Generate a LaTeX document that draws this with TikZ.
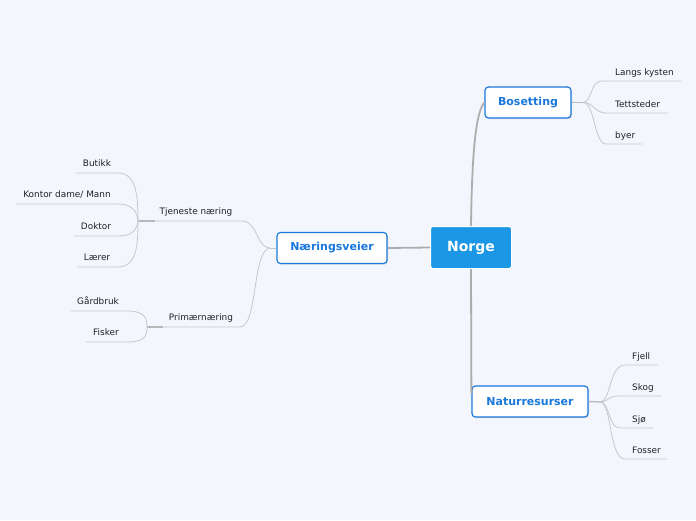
\documentclass[tikz,border=0pt]{standalone}
\usepackage{fontspec}
\setmainfont{DejaVu Sans}
\usetikzlibrary{shadows}
\definecolor{bgblue}{HTML}{F3F6FD}
\definecolor{hubblue}{HTML}{1B97E6}
\definecolor{topicblue}{HTML}{1A78DC}
\definecolor{trunkgray}{HTML}{ADADAD}
\definecolor{twiggray}{HTML}{C6C8CE}
\definecolor{leaftext}{HTML}{222222}

\begin{document}
\begin{tikzpicture}[
  x=1pt, y=-1pt,
  hub/.style={rectangle,rounded corners=2.5pt,fill=hubblue,draw=white,line width=1pt,text=white,font=\bfseries\fontsize{14}{16}\selectfont,minimum width=81pt,minimum height=42pt},
  topic/.style={rectangle,rounded corners=3.5pt,fill=white,draw=topicblue,line width=1.2pt,text=topicblue,font=\bfseries\fontsize{11}{13}\selectfont,minimum height=31pt,drop shadow={shadow xshift=1pt,shadow yshift=-1.2pt,opacity=0.25}},
  leaf/.style={anchor=base west,inner sep=0pt,text=leaftext,font=\fontsize{8.9}{10}\selectfont},
  cleaf/.style={leaf,anchor=base},
  trunk/.style={draw=trunkgray,line width=1.8pt},
  knot/.style={draw=trunkgray!85,line width=1.3pt},
  twig/.style={draw=twiggray,line width=0.8pt}
]
  \useasboundingbox[fill=bgblue] (0,0) rectangle (696,520);

  % main topics
  \node[hub] (norge) at (471,247.5) {Norge};
  \node[topic,minimum width=86pt] (bos) at (528,102.5) {Bosetting};
  \node[topic,minimum width=110pt] (naer) at (332,248) {Næringsveier};
  \node[topic,minimum width=116pt] (nat) at (530,401.5) {Naturresurser};

  \draw[trunk] (norge.west) -- (naer.east);
  \draw[trunk] (norge.north) .. controls (472,150) and (476,112) .. (bos.west);
  \draw[trunk] (norge.south) -- ([yshift=8pt]nat.west);

  % Bosetting
  \coordinate (bosj) at (583,102.5);
  \node[leaf] (lk) at (615,75) {Langs kysten};
  \node[leaf] (tett) at (615,107) {Tettsteder};
  \node[leaf] (byer) at (615,138) {byer};
  \coordinate (lk0) at (602,81);   \coordinate (lk1) at (681,81);
  \coordinate (tett0) at (606,113); \coordinate (tett1) at (668,113);
  \coordinate (byer0) at (606,144); \coordinate (byer1) at (642,144);
  \draw[knot] (bos.east) -- (bosj);
  \draw[twig] (bosj) .. controls (592,102.5) and (590,81) .. (lk0) -- (lk1);
  \draw[twig] (bosj) .. controls (593,102.5) and (595,113) .. (tett0) -- (tett1);
  \draw[twig] (bosj) .. controls (595,102.5) and (594,144) .. (byer0) -- (byer1);

  % Naturresurser
  \coordinate (natj) at (600,402);
  \node[leaf] (fjell) at (632,359) {Fjell};
  \node[leaf] (skog) at (632,390) {Skog};
  \node[leaf] (sjo) at (632,422) {Sjø};
  \node[leaf] (foss) at (632,453) {Fosser};
  \coordinate (fjell0) at (625,365); \coordinate (fjell1) at (658,365);
  \coordinate (skog0) at (618,396);  \coordinate (skog1) at (661,396);
  \coordinate (sjo0) at (620,428);   \coordinate (sjo1) at (653,428);
  \coordinate (foss0) at (625,459);  \coordinate (foss1) at (667,459);
  \draw[knot] (nat.east) -- (natj);
  \draw[twig] (natj) .. controls (611,402) and (609,365) .. (fjell0) -- (fjell1);
  \draw[twig] (natj) .. controls (608,402) and (608,396) .. (skog0) -- (skog1);
  \draw[twig] (natj) .. controls (610,402) and (608,428) .. (sjo0) -- (sjo1);
  \draw[twig] (natj) .. controls (612,402) and (609,459) .. (foss0) -- (foss1);

  % Naeringsveier
  \coordinate (naerj) at (270,248);
  \node[cleaf] (tjen) at (196,214) {Tjeneste næring};
  \node[cleaf] (prim) at (201,320) {Primærnæring};
  \coordinate (tjen0) at (242,221); \coordinate (tjen1) at (138,221); \coordinate (tjenk) at (155,221);
  \coordinate (prim0) at (240,327); \coordinate (prim1) at (147,327); \coordinate (primk) at (163,327);
  \draw[twig] (naer.west) -- (naerj);
  \draw[twig] (naerj) .. controls (256,248) and (258,221) .. (tjen0) -- (tjen1);
  \draw[twig] (naerj) .. controls (252,250) and (258,327) .. (prim0) -- (prim1);
  \draw[knot,line width=1.1pt] (tjenk) -- (tjen1);
  \draw[knot,line width=1.1pt] (primk) -- (prim1);

  % Tjeneste naering
  \node[cleaf] (butikk) at (97,166.5) {Butikk};
  \node[cleaf] (kontor) at (67,197.5) {Kontor dame/ Mann};
  \node[cleaf] (doktor) at (96,229.5) {Doktor};
  \node[cleaf] (laerer) at (97,260.5) {Lærer};
  \coordinate (butikk0) at (118,173); \coordinate (butikk1) at (76,173);
  \coordinate (kontor0) at (118,204); \coordinate (kontor1) at (16,204);
  \coordinate (doktor0) at (118,236); \coordinate (doktor1) at (74,236);
  \coordinate (laerer0) at (118,267); \coordinate (laerer1) at (77,267);
  \draw[twig] (tjen1) .. controls (138,198) and (137,173) .. (butikk0) -- (butikk1);
  \draw[twig] (tjen1) .. controls (137,211) and (132,204) .. (kontor0) -- (kontor1);
  \draw[twig] (tjen1) .. controls (137,230) and (132,236) .. (doktor0) -- (doktor1);
  \draw[twig] (tjen1) .. controls (138,244) and (137,267) .. (laerer0) -- (laerer1);

  % Primaernaering
  \node[cleaf] (gard) at (98,304.5) {Gårdbruk};
  \node[cleaf] (fisker) at (106,335.5) {Fisker};
  \coordinate (gard0) at (127,311); \coordinate (gard1) at (71,311);
  \coordinate (fisker0) at (127,342); \coordinate (fisker1) at (86,342);
  \draw[twig] (prim1) .. controls (147,318) and (145,311) .. (gard0) -- (gard1);
  \draw[twig] (prim1) .. controls (147,336) and (145,342) .. (fisker0) -- (fisker1);
\end{tikzpicture}
\end{document}
